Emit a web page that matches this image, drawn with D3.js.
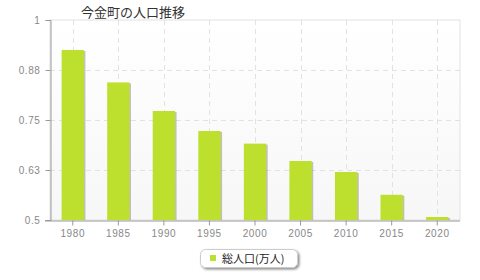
<!DOCTYPE html>
<html><head><meta charset="utf-8">
<script src="https://cdn.jsdelivr.net/npm/d3@7"></script>
<style>body{margin:0;background:#fff;}svg{display:block;font-family:"Noto Sans CJK JP","DejaVu Sans",sans-serif;}</style>
</head><body>
<svg id="c" width="480" height="280"></svg>
<script>
const title = "今金町の人口推移";
const categories = ["1980","1985","1990","1995","2000","2005","2010","2015","2020"];
const population = [0.925, 0.844, 0.7725, 0.7225, 0.691, 0.6475, 0.62, 0.563, 0.5075];
const yTicks = [0.5, 0.625, 0.75, 0.875, 1];
const yTickLabels = ["0.5", "0.63", "0.75", "0.88", "1"];
const seriesName = "総人口(万人)";

const svg = d3.select("#c");
const L = 50, R = 460, T = 20, B = 220;
const x = d3.scaleBand().domain(categories).range([L, R]);
const y = d3.scaleLinear().domain([0.5, 1]).range([B, T]);

const defs = svg.append("defs");
const g = defs.append("linearGradient").attr("id","bg").attr("x1",0).attr("y1",0).attr("x2",0).attr("y2",1);
g.append("stop").attr("offset","0%").attr("stop-color","#ffffff");
g.append("stop").attr("offset","100%").attr("stop-color","#f7f7f7");
const f = defs.append("filter").attr("id","sh").attr("x","-10%").attr("y","-30%").attr("width","130%").attr("height","180%");
f.append("feDropShadow").attr("dx",1.5).attr("dy",1.5).attr("stdDeviation",1).attr("flood-color","#000").attr("flood-opacity",0.45);

svg.append("rect").attr("x",L).attr("y",T).attr("width",R-L).attr("height",B-T).attr("fill","url(#bg)")
  .attr("stroke","#e2e2e2").attr("stroke-width",1);

// grid
svg.append("g").selectAll("line").data(categories).join("line")
  .attr("x1",d=>Math.round(x(d)+x.bandwidth()/2)+0.5).attr("x2",d=>Math.round(x(d)+x.bandwidth()/2)+0.5)
  .attr("y1",T).attr("y2",B).attr("stroke","#e2e2e2").attr("stroke-dasharray","5,4");
svg.append("g").selectAll("line").data(yTicks.slice(1,-1)).join("line")
  .attr("x1",L).attr("x2",R).attr("y1",d=>Math.round(y(d))+0.5).attr("y2",d=>Math.round(y(d))+0.5)
  .attr("stroke","#e2e2e2").attr("stroke-dasharray","5,4");

// bars
const bw = x.bandwidth()*0.49;
const bars = svg.append("g");
bars.selectAll("rect.s").data(categories).join("rect").attr("class","s")
  .attr("x",(d,i)=>x(d)+x.bandwidth()/2-bw/2+1.5).attr("y",(d,i)=>y(population[i])+1)
  .attr("width",bw).attr("height",(d,i)=>B-y(population[i])-1).attr("fill","rgba(90,90,60,0.35)");
bars.selectAll("rect.b").data(categories).join("rect").attr("class","b")
  .attr("x",(d,i)=>x(d)+x.bandwidth()/2-bw/2).attr("y",(d,i)=>y(population[i]))
  .attr("width",bw).attr("height",(d,i)=>B-y(population[i])).attr("fill","#bde02f");

// axes
const ya = d3.axisLeft(y).tickValues(yTicks).tickFormat((d,i)=>yTickLabels[i]).tickSize(5).tickPadding(5);
const yg = svg.append("g").attr("transform",`translate(${L+0.5},0)`).call(ya);
const xa = d3.axisBottom(x).tickSize(5).tickPadding(4);
const xg = svg.append("g").attr("transform",`translate(0,${B+0.5})`).call(xa);
[yg,xg].forEach(a=>{
  a.selectAll("path.domain").attr("stroke","#999");
  a.selectAll(".tick line").attr("stroke","#999");
  a.selectAll("text").attr("fill","#888").attr("font-size",10).attr("letter-spacing",0.6)
    .attr("font-family","Liberation Sans, Arial, sans-serif");
});
xg.select("path.domain").attr("d",`M${L-5},0.5H${R}`);

// title
svg.append("text").attr("x",81).attr("y",17).attr("font-size",13).attr("fill","#333").text(title);

// legend
const lg = svg.append("g");
lg.append("rect").attr("x",200.5).attr("y",249.5).attr("width",97).attr("height",18).attr("rx",5)
  .attr("fill","#fff").attr("stroke","#ccc").attr("filter","url(#sh)");
lg.append("rect").attr("x",210).attr("y",255).attr("width",6).attr("height",6).attr("fill","#bde02f");
lg.append("text").attr("x",222).attr("y",262.5).attr("font-size",11).attr("fill","#222").text(seriesName);
</script>
</body></html>
